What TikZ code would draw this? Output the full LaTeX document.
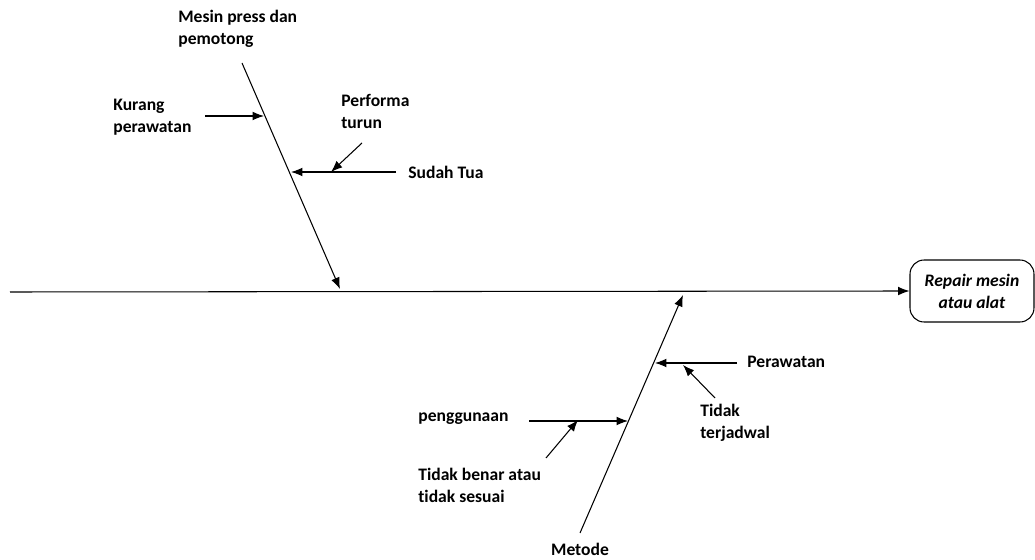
\documentclass[tikz,border=0pt]{standalone}
\usepackage{fontspec}
\setmainfont[Ligatures=NoCommon]{Carlito}
\usetikzlibrary{arrows.meta}

\begin{document}
\begin{tikzpicture}[x=0.02cm, y=-0.02cm,
    teks/.style={font=\bfseries\fontsize{10}{12.5}\selectfont, align=left, anchor=west, inner sep=0pt},
    tulang/.style={-{Latex[length=6.5pt,width=5pt]}, line width=0.6pt}]
  \useasboundingbox (0,0) rectangle (1035,560);

  % Akibat
  \node[draw, rounded corners=8pt, line width=0.6pt, minimum width=2.48cm, minimum height=1.24cm,
        align=center, font=\bfseries\itshape\fontsize{10}{12.5}\selectfont] (akibat) at (972,291) {Repair mesin\\atau alat};

  % Tulang utama
  \coordinate (ekor) at (10,292);
  \draw[tulang] (ekor) -- (akibat.west);

  % Cabang mesin
  \coordinate (mesinA) at (242,63);
  \coordinate (mesinB) at (340,289);
  \draw[tulang] (mesinA) -- (mesinB);
  \node[teks] (mesin) at (178,28.5) {Mesin press dan\\pemotong};

  \node[teks] (kurang) at (113,117.5) {Kurang\\perawatan};
  \coordinate (kurangA) at (205,116);
  \coordinate (kurangB) at (264,116);
  \draw[tulang] (kurangA) -- (kurangB);

  \node[teks] (tua) at (408,172) {Sudah Tua};
  \coordinate (tuaA) at (396,172);
  \coordinate (tuaB) at (291,172);
  \draw[tulang] (tuaA) -- (tuaB);

  \node[teks] (performa) at (341,111.5) {Performa\\turun};
  \coordinate (performaA) at (362,143);
  \coordinate (performaB) at (331,172);
  \draw[tulang] (performaA) -- (performaB);

  % Cabang metode
  \coordinate (metodeA) at (580,533);
  \coordinate (metodeB) at (683,295);
  \draw[tulang] (metodeA) -- (metodeB);
  \node[font=\bfseries\fontsize{10}{12.5}\selectfont, inner sep=0pt] (metode) at (580,549) {Metode};

  \node[teks] (perawatan) at (747,362) {Perawatan};
  \coordinate (perawatanA) at (737,363);
  \coordinate (perawatanB) at (655,363);
  \draw[tulang] (perawatanA) -- (perawatanB);

  \node[teks] (jadwal) at (700,422.5) {Tidak\\terjadwal};
  \coordinate (jadwalA) at (715,398);
  \coordinate (jadwalB) at (683,365);
  \draw[tulang] (jadwalA) -- (jadwalB);

  \node[teks] (guna) at (418,419) {penggunaan};
  \coordinate (gunaA) at (529,421);
  \coordinate (gunaB) at (628,421);
  \draw[tulang] (gunaA) -- (gunaB);

  \node[teks] (sesuai) at (418,485) {Tidak benar atau\\tidak sesuai};
  \coordinate (sesuaiA) at (546,458);
  \coordinate (sesuaiB) at (578,420);
  \draw[tulang] (sesuaiA) -- (sesuaiB);
\end{tikzpicture}
\end{document}
